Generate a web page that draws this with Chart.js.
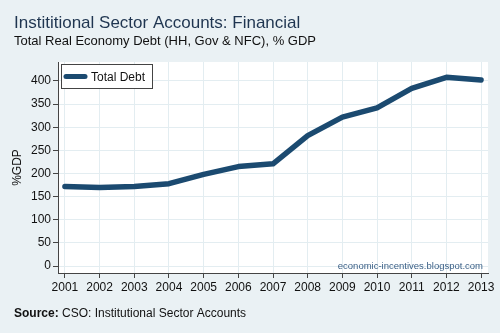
<!DOCTYPE html>
<html>
<head>
<meta charset="utf-8">
<script src="https://cdn.jsdelivr.net/npm/chart.js@4"></script>
<style>
  html, body { margin: 0; padding: 0; background: #eaf1f4; }
  #wrap { width: 500px; height: 333px; position: relative; }
</style>
</head>
<body>
<div id="wrap"><canvas id="debtChart" width="500" height="333"></canvas></div>
<script>
// data
let years = [2001, 2002, 2003, 2004, 2005, 2006, 2007, 2008, 2009, 2010, 2011, 2012, 2013];
let totalDebt = [172, 170, 172, 178, 198, 215, 221, 282, 322, 342, 384, 408, 402];
let yTicks = [0, 50, 100, 150, 200, 250, 300, 350, 400];

let titleText = "Instititional Sector Accounts: Financial";
let subtitleText = "Total Real Economy Debt (HH, Gov & NFC), % GDP";
let lineColor = "#1b4a70";

// titles, source, watermark and the boxed legend
let extras = {
  id: "extras",
  beforeDraw(chart) {
    let c = chart.ctx;
    c.save();
    c.fillStyle = "#eaf1f4";
    c.fillRect(0, 0, chart.width, chart.height);
    let a = chart.chartArea;
    c.fillStyle = "#ffffff";
    c.fillRect(a.left, a.top, a.right - a.left, a.bottom - a.top);
    c.restore();
  },
  afterDraw(chart) {
    let c = chart.ctx;
    let a = chart.chartArea;
    c.save();
    c.textBaseline = "alphabetic";
    c.fillStyle = "#1f3550";
    c.font = "17px Arial, 'Liberation Sans'";
    c.fillText(titleText, 14, 28);
    c.fillStyle = "#111";
    c.font = "13px Arial, 'Liberation Sans'";
    c.fillText(subtitleText, 14, 45);

    // source line
    c.font = "bold 12px Arial, 'Liberation Sans'";
    c.fillText("Source:", 14, 317);
    let w = c.measureText("Source: ").width;
    c.font = "12px Arial, 'Liberation Sans'";
    c.fillText("CSO: Institutional Sector Accounts", 14 + w, 317);

    // watermark
    c.fillStyle = "#3a5f86";
    c.font = "9.5px Arial, 'Liberation Sans'";
    c.textAlign = "right";
    c.fillText("economic-incentives.blogspot.com", a.right - 5, a.bottom - 4);

    // legend box
    c.textAlign = "left";
    c.fillStyle = "#fff";
    c.fillRect(a.left + 3, a.top + 2, 91, 24);
    c.strokeStyle = "#444";
    c.lineWidth = 1;
    c.strokeRect(a.left + 3.5, a.top + 2.5, 91, 24);
    c.strokeStyle = lineColor;
    c.lineWidth = 5;
    c.lineCap = "round";
    c.beginPath();
    c.moveTo(a.left + 8, a.top + 14.5);
    c.lineTo(a.left + 27, a.top + 14.5);
    c.stroke();
    c.fillStyle = "#111";
    c.font = "12px Arial, 'Liberation Sans'";
    c.fillText(chart.data.datasets[0].label, a.left + 33, a.top + 19);
    c.restore();
  }
};

let ctx = document.querySelector("#debtChart").getContext("2d");
new Chart(ctx, {
  type: "line",
  data: {
    datasets: [
      {
        label: "Total Debt",
        data: years.map((y, i) => ({ x: y, y: totalDebt[i] })),
        borderColor: lineColor,
        borderWidth: 5.5,
        pointRadius: 0,
        tension: 0,
        borderCapStyle: "round",
        borderJoinStyle: "round",
      },
    ],
  },
  options: {
    responsive: false,
    animation: false,
    layout: { padding: { top: 62, right: 12, left: 0, bottom: 0 } },
    plugins: { legend: { display: false }, title: { display: false }, tooltip: { enabled: false } },
    scales: {
      x: {
        type: "linear",
        min: 2000.8,
        max: 2013.2,
        afterFit: (s) => { s.height = 60; },
        afterBuildTicks: (s) => { s.ticks = years.map((v) => ({ value: v })); },
        ticks: {
          color: "#111",
          font: { family: "Arial", size: 12 },
          padding: 2,
          maxRotation: 0,
          callback: (v) => String(v),
        },
        grid: { color: "#e3edf1", tickColor: "#444", tickLength: 5 },
        border: { color: "#444", width: 1 },
      },
      y: {
        min: -15,
        max: 441,
        afterFit: (s) => { s.width = 58; },
        afterBuildTicks: (s) => { s.ticks = yTicks.map((v) => ({ value: v })); },
        ticks: { color: "#111", font: { family: "Arial", size: 12 }, padding: 2 },
        grid: { color: "#e3edf1", tickColor: "#444", tickLength: 5 },
        border: { color: "#444", width: 1 },
        title: { display: true, text: "%GDP", color: "#111", font: { family: "Arial", size: 12 }, padding: { top: 10, bottom: 0 } },
      },
    },
  },
  plugins: [extras],
});
</script>
</body>
</html>
